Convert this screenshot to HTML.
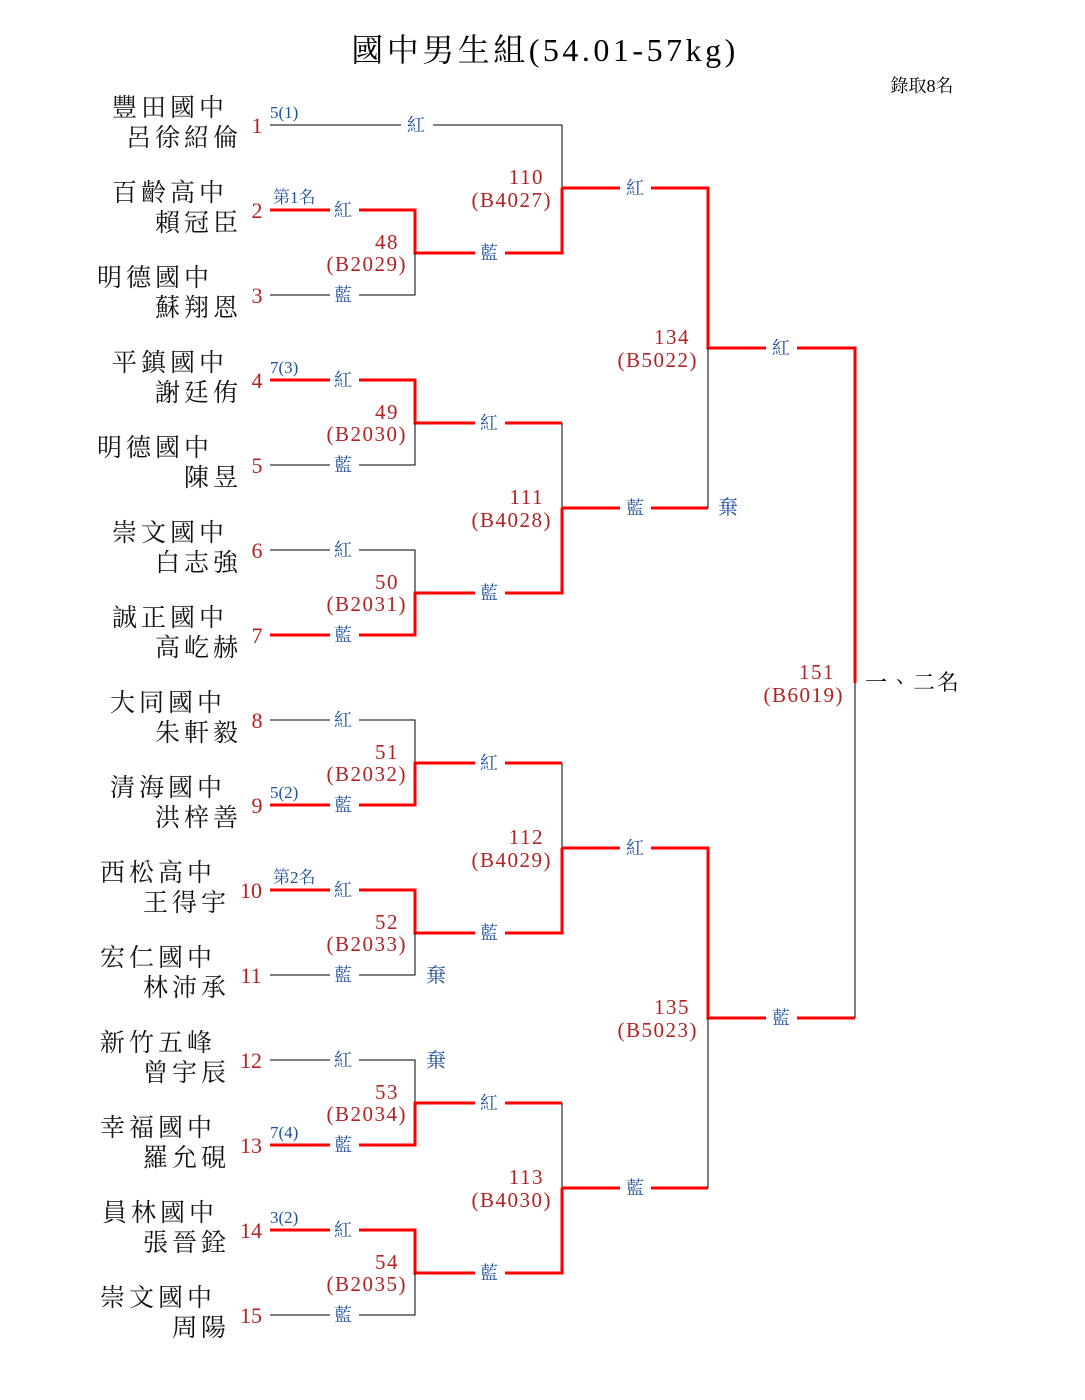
<!DOCTYPE html>
<html><head><meta charset="utf-8"><style>
html,body{margin:0;padding:0;background:#fff;}
svg{display:block;}
text{font-family:"Liberation Serif","Noto Serif CJK TC","Noto Serif CJK SC",serif;}
.nm{font-size:25px;fill:#111;letter-spacing:4px;}
.no{font-size:22px;fill:#b22222;text-anchor:middle;}
.bl{font-size:18px;fill:#1f4e9c;text-anchor:middle;}
.sd{font-size:17px;fill:#1f4e9c;}
.mt{font-size:21px;fill:#b22222;text-anchor:end;letter-spacing:1.5px;}
.k{stroke:#000;stroke-width:1;fill:none;}
.r{stroke:#f00;stroke-width:3;fill:none;}
.w{fill:#fff;}
</style></head><body>
<svg width="1085" height="1400" viewBox="0 0 1085 1400" xmlns="http://www.w3.org/2000/svg">
<text x="545" y="61" text-anchor="middle" style="font-size:32px;letter-spacing:3.5px">國中男生組(54.01-57kg)</text>
<text x="922" y="92" text-anchor="middle" style="font-size:18px">錄取8名</text>

<g class="nm">
<text x="112" y="116">豐田國中</text><text x="242" y="146" text-anchor="end">呂徐紹倫</text>
<text x="112" y="201">百齡高中</text><text x="242" y="231" text-anchor="end">賴冠臣</text>
<text x="97" y="286">明德國中</text><text x="242" y="316" text-anchor="end">蘇翔恩</text>
<text x="112" y="371">平鎮國中</text><text x="242" y="401" text-anchor="end">謝廷侑</text>
<text x="97" y="456">明德國中</text><text x="242" y="486" text-anchor="end">陳昱</text>
<text x="112" y="541">崇文國中</text><text x="242" y="571" text-anchor="end">白志強</text>
<text x="112" y="626">誠正國中</text><text x="242" y="656" text-anchor="end">高屹赫</text>
<text x="110" y="711">大同國中</text><text x="242" y="741" text-anchor="end">朱軒毅</text>
<text x="110" y="796">清海國中</text><text x="242" y="826" text-anchor="end">洪梓善</text>
<text x="100" y="881">西松高中</text><text x="230" y="911" text-anchor="end">王得宇</text>
<text x="100" y="966">宏仁國中</text><text x="230" y="996" text-anchor="end">林沛承</text>
<text x="100" y="1051">新竹五峰</text><text x="230" y="1081" text-anchor="end">曾宇辰</text>
<text x="100" y="1136">幸福國中</text><text x="230" y="1166" text-anchor="end">羅允硯</text>
<text x="102" y="1221">員林國中</text><text x="230" y="1251" text-anchor="end">張晉銓</text>
<text x="100" y="1306">崇文國中</text><text x="230" y="1336" text-anchor="end">周陽</text>
</g>
<g class="no">
<text x="257" y="133">1</text><text x="257" y="218">2</text><text x="257" y="303">3</text><text x="257" y="388">4</text><text x="257" y="473">5</text><text x="257" y="558">6</text><text x="257" y="643">7</text><text x="257" y="728">8</text><text x="257" y="813">9</text><text x="251" y="898">10</text><text x="251" y="983">11</text><text x="251" y="1068">12</text><text x="251" y="1153">13</text><text x="251" y="1238">14</text><text x="251" y="1323">15</text>
</g>
<g class="sd">
<text x="270" y="118">5(1)</text><text x="273" y="203">第1名</text><text x="270" y="373">7(3)</text><text x="270" y="798">5(2)</text><text x="273" y="883">第2名</text><text x="270" y="1138">7(4)</text><text x="270" y="1223">3(2)</text>
</g>

<g>
<path class="k" d="M270 125H562V188"/>
<path class="r" d="M270 210H415V253H562V188"/><path class="k" d="M270 295H415V253"/>
<path class="r" d="M270 380H415V423H562"/><path class="k" d="M270 465H415V423"/>
<path class="k" d="M270 550H415V593"/><path class="r" d="M270 635H415V593H562V508"/>
<path class="k" d="M562 423V508"/>
<path class="k" d="M270 720H415V763"/><path class="r" d="M270 805H415V763H562"/>
<path class="r" d="M270 890H415V933H562V848"/><path class="k" d="M270 975H415V933"/>
<path class="k" d="M562 763V848"/>
<path class="k" d="M270 1060H415V1103"/><path class="r" d="M270 1145H415V1103H562"/>
<path class="r" d="M270 1230H415V1273H562V1188"/><path class="k" d="M270 1315H415V1273"/>
<path class="k" d="M562 1103V1188"/>
<path class="r" d="M562 188H708V348H855V683"/>
<path class="r" d="M562 508H708"/><path class="k" d="M708 348V508"/>
<path class="r" d="M562 848H708V1018H855"/>
<path class="r" d="M562 1188H708"/><path class="k" d="M708 1018V1188"/>
<path class="k" d="M855 683V1018"/>
</g>

<g class="w">
<rect x="330" y="200" width="29" height="20"/><rect x="330" y="285" width="29" height="20"/>
<rect x="330" y="370" width="29" height="20"/><rect x="330" y="455" width="29" height="20"/>
<rect x="330" y="540" width="29" height="20"/><rect x="330" y="625" width="29" height="20"/>
<rect x="330" y="710" width="29" height="20"/><rect x="330" y="795" width="29" height="20"/>
<rect x="330" y="880" width="29" height="20"/><rect x="330" y="965" width="29" height="20"/>
<rect x="330" y="1050" width="29" height="20"/><rect x="330" y="1135" width="29" height="20"/>
<rect x="330" y="1220" width="29" height="20"/><rect x="330" y="1305" width="29" height="20"/>
<rect x="401" y="115" width="32" height="20"/>
<rect x="475" y="243" width="30" height="20"/><rect x="475" y="413" width="30" height="20"/>
<rect x="475" y="583" width="30" height="20"/><rect x="475" y="753" width="30" height="20"/>
<rect x="475" y="923" width="30" height="20"/><rect x="475" y="1093" width="30" height="20"/>
<rect x="475" y="1263" width="30" height="20"/>
<rect x="620" y="178" width="31" height="20"/><rect x="620" y="498" width="31" height="20"/>
<rect x="620" y="838" width="31" height="20"/><rect x="620" y="1178" width="31" height="20"/>
<rect x="766" y="338" width="31" height="20"/><rect x="766" y="1008" width="31" height="20"/>
</g>
<g class="bl">
<text x="343" y="216">紅</text><text x="343" y="301">藍</text>
<text x="343" y="386">紅</text><text x="343" y="471">藍</text>
<text x="343" y="556">紅</text><text x="343" y="641">藍</text>
<text x="343" y="726">紅</text><text x="343" y="811">藍</text>
<text x="343" y="896">紅</text><text x="343" y="981">藍</text>
<text x="343" y="1066">紅</text><text x="343" y="1151">藍</text>
<text x="343" y="1236">紅</text><text x="343" y="1321">藍</text>
<text x="416" y="131">紅</text>
<text x="489" y="259">藍</text><text x="489" y="429">紅</text><text x="489" y="599">藍</text><text x="489" y="769">紅</text><text x="489" y="939">藍</text><text x="489" y="1109">紅</text><text x="489" y="1279">藍</text>
<text x="635" y="194">紅</text><text x="635" y="514">藍</text><text x="635" y="854">紅</text><text x="635" y="1194">藍</text>
<text x="781" y="354">紅</text><text x="781" y="1024">藍</text>
<text x="728" y="514" style="font-size:20px">棄</text>
<text x="436" y="982" style="font-size:20px">棄</text>
<text x="436" y="1067" style="font-size:20px">棄</text>
</g>
<g class="mt">
<text x="399" y="249">48</text><text x="407" y="271">(B2029)</text>
<text x="399" y="419">49</text><text x="407" y="441">(B2030)</text>
<text x="399" y="589">50</text><text x="407" y="611">(B2031)</text>
<text x="399" y="759">51</text><text x="407" y="781">(B2032)</text>
<text x="399" y="929">52</text><text x="407" y="951">(B2033)</text>
<text x="399" y="1099">53</text><text x="407" y="1121">(B2034)</text>
<text x="399" y="1269">54</text><text x="407" y="1291">(B2035)</text>
<text x="544" y="184">110</text><text x="552" y="207">(B4027)</text>
<text x="544" y="504">111</text><text x="552" y="527">(B4028)</text>
<text x="544" y="844">112</text><text x="552" y="867">(B4029)</text>
<text x="544" y="1184">113</text><text x="552" y="1207">(B4030)</text>
<text x="690" y="344">134</text><text x="698" y="367">(B5022)</text>
<text x="690" y="1014">135</text><text x="698" y="1037">(B5023)</text>
<text x="835" y="679">151</text><text x="844" y="702">(B6019)</text>
</g>
<text x="865" y="690" style="font-size:22px;letter-spacing:2px">一、二名</text>
</svg>
</body></html>
